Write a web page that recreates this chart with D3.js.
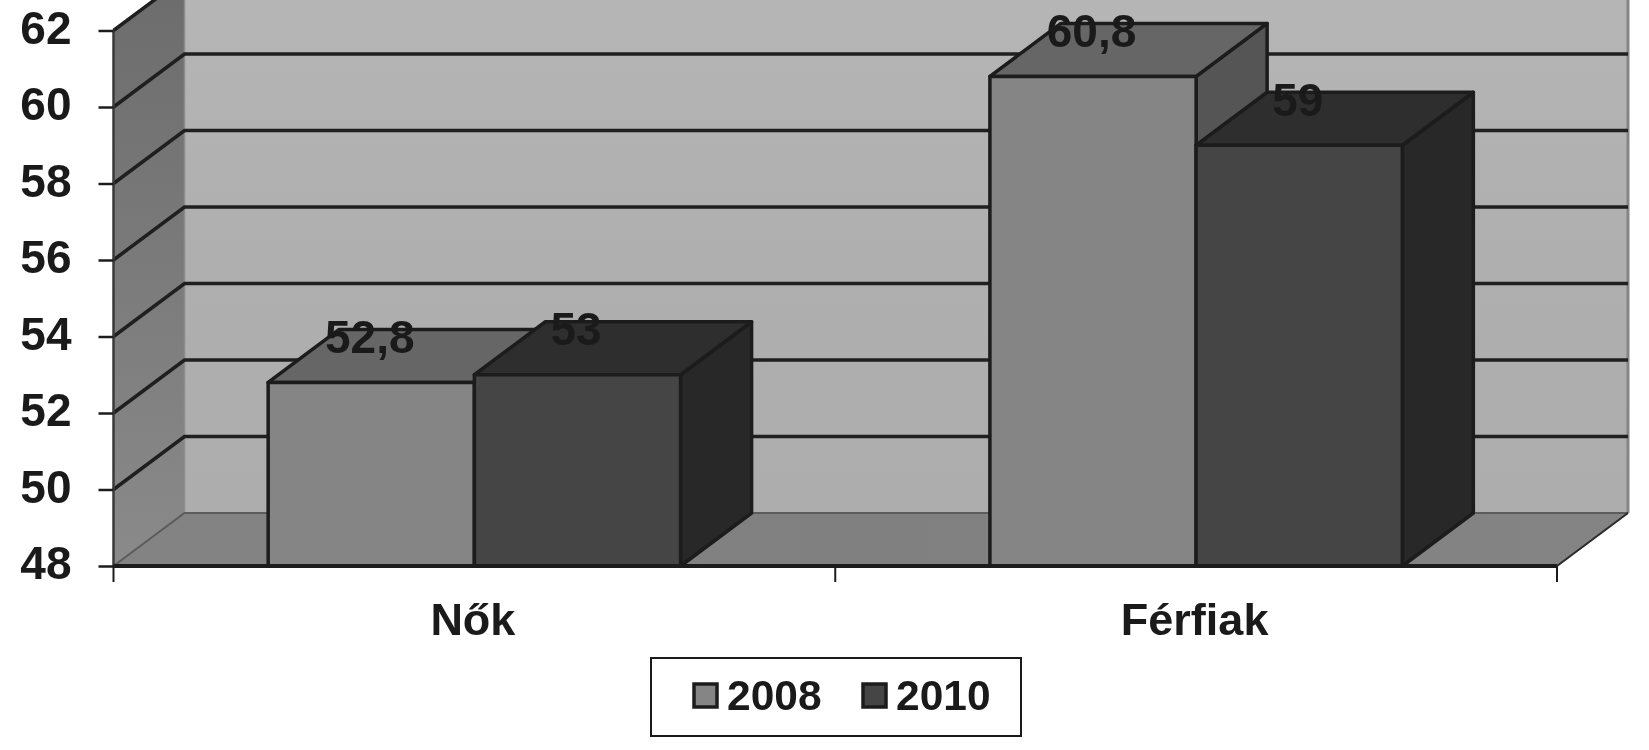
<!DOCTYPE html>
<html><head><meta charset="utf-8">
<script src="https://cdn.jsdelivr.net/npm/d3@7/dist/d3.min.js"></script>
<style>html,body{margin:0;padding:0;background:#fff;overflow:hidden}svg{display:block;filter:blur(0.7px)}
text{font-family:"Liberation Sans",Arial,sans-serif;font-weight:bold;fill:#1a1a1a}</style>
</head><body><script>
const categories = ["Nők", "Férfiak"];
const seriesNames = ["2008", "2010"];
const values2008 = [52.8, 60.8];
const values2010 = [53, 59];
const valueLabels2008 = ["52,8", "60,8"];
const valueLabels2010 = ["53", "59"];
const yTicks = [48, 50, 52, 54, 56, 58, 60, 62];

const series = [
  {name: seriesNames[0], values: values2008, labels: valueLabels2008, front: "#858585", top: "#666666", side: "#555555"},
  {name: seriesNames[1], values: values2010, labels: valueLabels2010, front: "#454545", top: "#2e2e2e", side: "#282828"}
];
const W = 1649, H = 750, DX = 71, DY = 53;
const svg = d3.select("body").append("svg").attr("width", W).attr("height", H);
const x0 = d3.scaleBand().domain(categories).range([113.5, 1557]);
const x1 = d3.scaleBand().domain(seriesNames).range([0, x0.bandwidth()]).paddingInner(0).paddingOuter(0.75);
const y = d3.scaleLinear().domain([48, 62]).range([566, 30.5]);
const [xL, xR] = x0.range(), y0 = y(48), yT = y(62);
const pts = a => a.map(p => p.join(",")).join(" ");
const ink = "#1c1c1c";

const defs = svg.append("defs");
const grad = (id, stops, x2, y2) => {
  const g = defs.append("linearGradient").attr("id", id).attr("x1", 0).attr("y1", 0).attr("x2", x2).attr("y2", y2);
  stops.forEach(([o, c]) => g.append("stop").attr("offset", o).attr("stop-color", c));
};
grad("back", [[0, "#b6b6b6"], [0.5, "#afafaf"], [1, "#adadad"]], 0, 1);
grad("wall", [[0, "#6c6c6c"], [1, "#8a8a8a"]], 0, 1);
grad("floor", [[0, "#838383"], [0.5, "#808080"], [1, "#848484"]], 1, 0);

// walls and floor
svg.append("polygon").attr("points", pts([[xL + DX, y0 - DY], [xR + DX, y0 - DY], [xR + DX, yT - DY], [xL + DX, yT - DY]])).attr("fill", "url(#back)");
svg.append("polygon").attr("points", pts([[xL, y0], [xL + DX, y0 - DY], [xL + DX, yT - DY], [xL, yT]])).attr("fill", "url(#wall)");
svg.append("polygon").attr("points", pts([[xL, y0], [xR, y0], [xR + DX, y0 - DY], [xL + DX, y0 - DY]])).attr("fill", "url(#floor)");
svg.append("line").attr("x1", xR + DX).attr("x2", xR + DX).attr("y1", 0).attr("y2", y0 - DY).attr("stroke", "#858585").attr("stroke-width", 3);
svg.append("line").attr("x1", xL + DX).attr("x2", xL + DX).attr("y1", 0).attr("y2", y0 - DY).attr("stroke", "#8c8c8c").attr("stroke-width", 1.5);

// gridlines
const gridTicks = yTicks.slice(1);
const grid = svg.append("g").attr("fill", "none").attr("stroke", "#1f1f1f").attr("stroke-width", 3.5);
grid.selectAll("path").data(gridTicks).join("path")
  .attr("d", d => `M${xL},${y(d)}L${xL + DX},${y(d) - DY}L${xR + DX},${y(d) - DY}`);
svg.append("path").attr("fill", "none").attr("stroke", "#5c5c5c").attr("stroke-width", 2)
  .attr("d", `M${xL},${y0}L${xL + DX},${y0 - DY}L${xR + DX},${y0 - DY}`);
svg.append("line").attr("x1", xR).attr("y1", y0).attr("x2", xR + DX).attr("y2", y0 - DY).attr("stroke", "#2a2a2a").attr("stroke-width", 2);

// 3-D bars
const bars = svg.append("g").attr("stroke", ink).attr("stroke-width", 3.5).attr("stroke-linejoin", "round");
categories.forEach((c, i) => {
  series.forEach(s => {
    const a = x0(c) + x1(s.name), b = a + x1.bandwidth(), t = y(s.values[i]);
    bars.append("polygon").attr("fill", s.side).attr("points", pts([[b, y0], [b + DX, y0 - DY], [b + DX, t - DY], [b, t]]));
    bars.append("polygon").attr("fill", s.top).attr("points", pts([[a, t], [b, t], [b + DX, t - DY], [a + DX, t - DY]]));
    bars.append("rect").attr("fill", s.front).attr("x", a).attr("y", t).attr("width", b - a).attr("height", y0 - t);
  });
});

// axes
const yAxis = svg.append("g").attr("transform", `translate(${xL},0)`)
  .call(d3.axisLeft(y).tickValues(yTicks).tickSize(15).tickPadding(27).tickFormat(d3.format("d")));
yAxis.selectAll("text").style("font-size", "46px").attr("fill", "#1a1a1a").attr("y", -2);
yAxis.selectAll("line").attr("stroke", ink).attr("stroke-width", 2.5);
yAxis.select(".domain").attr("stroke", "#3a3a3a").attr("stroke-width", 2.5).attr("d", `M0,${yT}V${y0}`);

const xAxis = svg.append("g").attr("transform", `translate(0,${y0})`)
  .call(d3.axisBottom(x0).tickSize(0));
xAxis.selectAll("text").style("font-size", "45px").attr("x", -1.5).attr("y", 69).attr("dy", 0).attr("fill", "#1a1a1a");
xAxis.select(".domain").attr("stroke", ink).attr("stroke-width", 4).attr("d", `M${xL},0H${xR}`);
xAxis.selectAll("line.bound").data([0, 1, 2]).join("line").attr("class", "bound")
  .attr("x1", d => xL + d * x0.step()).attr("x2", d => xL + d * x0.step())
  .attr("y1", 0).attr("y2", 16).attr("stroke", ink).attr("stroke-width", 2);

// data labels
categories.forEach((c, i) => {
  series.forEach(s => {
    svg.append("text").text(s.labels[i]).attr("text-anchor", "middle")
      .attr("x", x0(c) + x1(s.name) + x1.bandwidth() / 2 - 1.5)
      .attr("y", y(s.values[i]) - 29.5)
      .style("font-size", "46px").attr("fill", "#1e1e1e");
  });
});

// legend
svg.append("rect").attr("x", 651).attr("y", 658).attr("width", 370).attr("height", 78).attr("fill", "#fff").attr("stroke", "#1a1a1a").attr("stroke-width", 2);
const legendX = d3.scalePoint().domain(seriesNames).range([694, 863]);
const lg = svg.selectAll("g.lg").data(series).join("g").attr("class", "lg").attr("transform", d => `translate(${legendX(d.name)},684)`);
lg.append("rect").attr("width", 23).attr("height", 23).attr("fill", d => d.front).attr("stroke", ink).attr("stroke-width", 3.5);
lg.append("text").text(d => d.name).attr("x", 33).attr("y", 26).style("font-size", "42.5px");
</script></body></html>
